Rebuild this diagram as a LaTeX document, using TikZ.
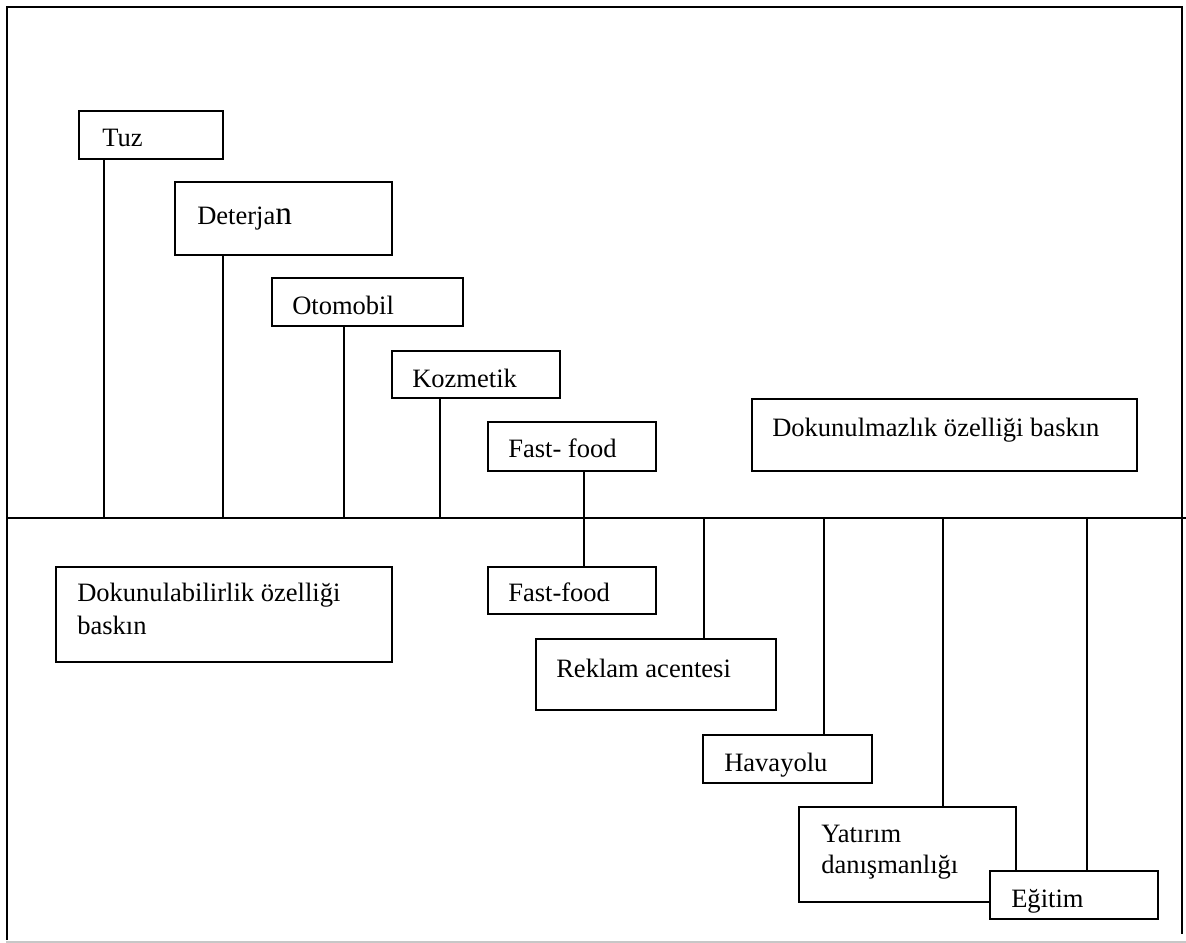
\documentclass[tikz,border=0pt]{standalone}
\usepackage{fontspec}
\setmainfont{Liberation Serif}
\usetikzlibrary{fit}
\begin{document}
\begin{tikzpicture}[x=0.75pt,y=-0.75pt,
  ln/.style={line width=1.1pt},
  box/.style={draw, line width=1.1pt, fill=white, inner sep=0pt},
  lbl/.style={anchor=base west, inner sep=0pt, font=\fontsize{19.9pt}{24pt}\selectfont}]
\useasboundingbox (0,0) rectangle (1186,943);
% frame and axis
\draw[ln] (7,940) -- (7,7) -- (1182,7) -- (1182,934);
\coordinate (axisW) at (7,518);
\coordinate (axisE) at (1186,518);
\draw[ln] (axisW) -- (axisE);
\draw[black!22, line width=0.9pt] (6,942) -- (1186,942);
% attachment points on the axis
\coordinate (a1) at (104,518);
\coordinate (a2) at (223,518);
\coordinate (a3) at (344,518);
\coordinate (a4) at (440,518);
\coordinate (a5) at (584,518);
\coordinate (a6) at (704,518);
\coordinate (a7) at (824,518);
\coordinate (a8) at (943,518);
\coordinate (a9) at (1087,518);
% upper boxes
\node[box, fit={(79,111) (223,159)}] (tuz) {};
\node[box, fit={(175,182) (392,255)}] (det) {};
\node[box, fit={(272,278) (463,326)}] (oto) {};
\node[box, fit={(392,351) (560,398)}] (koz) {};
\node[box, fit={(488,422) (656,471)}] (ff1) {};
\node[box, fit={(752,399) (1137,471)}] (dok) {};
% lower boxes
\node[box, fit={(56,567) (392,662)}] (dab) {};
\node[box, fit={(488,567) (656,614)}] (ff2) {};
\node[box, fit={(536,639) (776,710)}] (rek) {};
\node[box, fit={(703,735) (872,783)}] (hav) {};
% connectors
\draw[ln] (a1 |- tuz.south) -- (a1);
\draw[ln] (a2 |- det.south) -- (a2);
\draw[ln] (a3 |- oto.south) -- (a3);
\draw[ln] (a4 |- koz.south) -- (a4);
\draw[ln] (a5 |- ff1.south) -- (a5 |- ff2.north);
\draw[ln] (a6) -- (a6 |- rek.north);
\draw[ln] (a7) -- (a7 |- hav.north);
\node[box, fit={(799,807) (1016,902)}] (yat) {};
\draw[ln] (a8) -- (a8 |- yat.north);
\node[lbl] (yatT1) at (821,842) {Yatırım};
\node[lbl] (yatT2) at (821,873) {danışmanlığı};
\node[box, fit={(990,871) (1158,919)}] (egi) {};
\draw[ln] (a9) -- (a9 |- egi.north);
% texts
\node[lbl] (tuzT) at (102,146) {Tuz};
\node[lbl] (detT) at (197,224) {Deterja{\fontsize{25pt}{25pt}\selectfont n}};
\node[lbl] (otoT) at (292,314) {Otomobil};
\node[lbl] (kozT) at (412,387) {Kozmetik};
\node[lbl] (ff1T) at (508,457) {Fast- food};
\node[lbl] (dokT) at (772,436) {Dokunulmazlık özelliği baskın};
\node[lbl] (dabT1) at (77,601) {Dokunulabilirlik özelliği};
\node[lbl] (dabT2) at (77,634) {baskın};
\node[lbl] (ff2T) at (508,601) {Fast-food};
\node[lbl] (rekT) at (556,677) {Reklam acentesi};
\node[lbl] (havT) at (724,771) {Havayolu};
\node[lbl] (egiT) at (1011,907) {Eğitim};
\end{tikzpicture}
\end{document}
